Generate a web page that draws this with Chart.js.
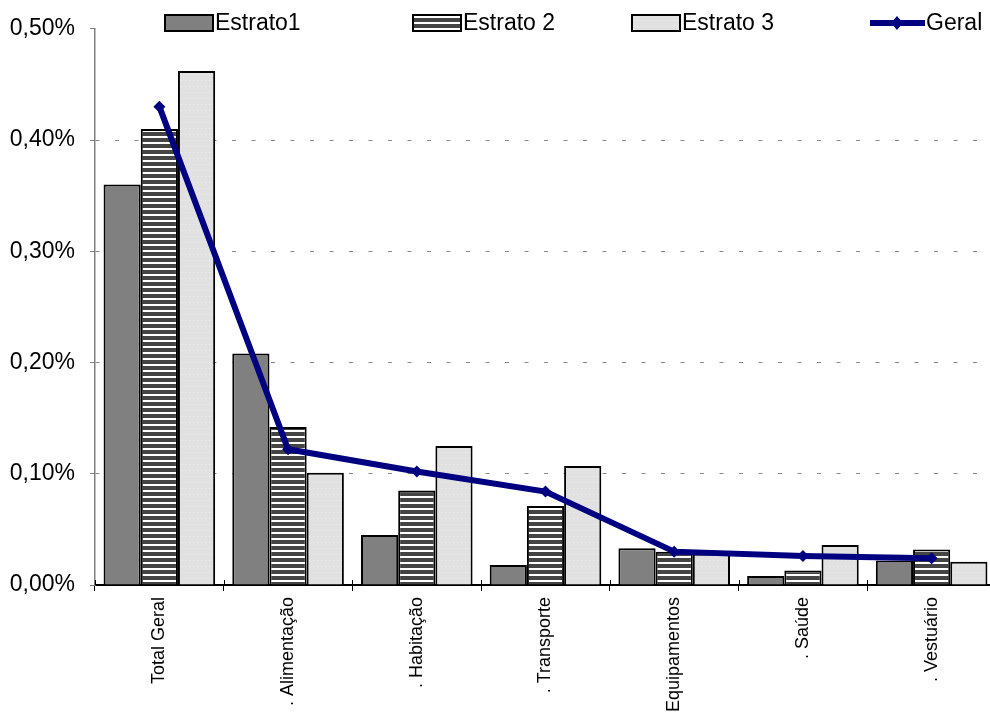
<!DOCTYPE html>
<html>
<head>
<meta charset="utf-8">
<script src="https://cdn.jsdelivr.net/npm/chart.js@4.4.0/dist/chart.umd.min.js"></script>
<style>
  html, body { margin: 0; padding: 0; background: #fff; overflow: hidden; }
  #wrap { width: 990px; height: 717px; overflow: hidden; }
</style>
</head>
<body>
<div id="wrap"><canvas id="chart" width="1002" height="717"></canvas></div>
<script>
const categories = ['Total Geral', '. Alimentação', '. Habitação', '. Transporte', 'Equipamentos', '. Saúde', '. Vestuário'];
const estrato1 = [0.360, 0.208, 0.045, 0.018, 0.033, 0.008, 0.022];
const estrato2 = [0.410, 0.142, 0.085, 0.071, 0.030, 0.013, 0.032];
const estrato3 = [0.462, 0.101, 0.125, 0.107, 0.028, 0.036, 0.021];
const geral = [0.430, 0.122, 0.102, 0.084, 0.030, 0.026, 0.024];
const yTicks = [0, 0.1, 0.2, 0.3, 0.4, 0.5];

const FONT = '"Liberation Sans", Arial, sans-serif';

function stripePattern() {
    const c = document.createElement('canvas');
    c.width = 6; c.height = 6;
    const g = c.getContext('2d');
    g.fillStyle = '#ffffff';
    g.fillRect(0, 0, 6, 6);
    g.fillStyle = '#444444';
    g.fillRect(0, 0, 6, 4);
    return g.createPattern(c, 'repeat');
}

function dotPattern() {
    const c = document.createElement('canvas');
    c.width = 4; c.height = 6;
    const g = c.getContext('2d');
    g.fillStyle = '#e1e1e1';
    g.fillRect(0, 0, 4, 6);
    g.fillStyle = '#eeeeee';
    g.fillRect(1, 2, 1, 1);
    return g.createPattern(c, 'repeat');
}

const stripes = stripePattern();
const dots = dotPattern();

// legend drawn by hand to match the spread-out original
const legendPlugin = {
    id: 'topLegend',
    afterDraw(chart) {
        const ctx = chart.ctx;
        const y = 23;
        const items = [
            { x: 165, text: 'Estrato1', fill: '#808080' },
            { x: 413, text: 'Estrato 2', fill: stripes },
            { x: 632, text: 'Estrato 3', fill: dots },
        ];
        ctx.save();
        ctx.font = '23px ' + FONT;
        ctx.textBaseline = 'middle';
        items.forEach(it => {
            ctx.fillStyle = it.fill;
            ctx.fillRect(it.x, y - 8, 48, 16);
            ctx.lineWidth = 2;
            ctx.strokeStyle = '#000';
            ctx.strokeRect(it.x, y - 8, 48, 16);
            ctx.fillStyle = '#000';
            ctx.fillText(it.text, it.x + 50, y + 1);
        });
        ctx.strokeStyle = '#000080';
        ctx.lineWidth = 6;
        ctx.beginPath();
        ctx.moveTo(870, y);
        ctx.lineTo(925, y);
        ctx.stroke();
        ctx.fillStyle = '#000080';
        ctx.beginPath();
        ctx.moveTo(897, y - 7);
        ctx.lineTo(903, y);
        ctx.lineTo(897, y + 7);
        ctx.lineTo(891, y);
        ctx.closePath();
        ctx.fill();
        ctx.fillStyle = '#000';
        ctx.fillText('Geral', 926, y + 1);
        ctx.restore();
    }
};

// draw the x-axis tick marks across the axis line, as in the original
const crossTicks = {
    id: 'crossTicks',
    afterDatasetsDraw(chart) {
        const x = chart.scales.x;
        const ctx = chart.ctx;
        const bottom = chart.chartArea.bottom;
        ctx.save();
        ctx.strokeStyle = '#000';
        ctx.lineWidth = 1;
        for (let i = 0; i <= categories.length; i++) {
            const px = Math.round(x.getPixelForValue(i - 0.5)) + 0.5;
            ctx.beginPath();
            ctx.moveTo(px, bottom - 5);
            ctx.lineTo(px, bottom);
            ctx.stroke();
        }
        ctx.restore();
    }
};

const barStyle = { borderColor: '#000000', borderWidth: 2, categoryPercentage: 0.867, barPercentage: 1.0, order: 2 };

new Chart(document.getElementById('chart'), {
    data: {
        labels: categories,
        datasets: [
            { type: 'line', label: 'Geral', data: geral, borderColor: '#000080', backgroundColor: '#000080',
              borderWidth: 6, pointStyle: 'rectRot', pointRadius: 6, pointBorderWidth: 0, tension: 0, order: 0 },
            { type: 'bar', label: 'Estrato1', data: estrato1, backgroundColor: '#808080', ...barStyle },
            { type: 'bar', label: 'Estrato 2', data: estrato2, backgroundColor: stripes, ...barStyle },
            { type: 'bar', label: 'Estrato 3', data: estrato3, backgroundColor: dots, ...barStyle },
        ]
    },
    options: {
        responsive: false,
        animation: false,
        layout: { padding: { top: 27, right: 0, bottom: 0, left: 0 } },
        plugins: { legend: { display: false }, tooltip: { enabled: false } },
        scales: {
            x: {
                offset: true,
                grid: { offset: true, drawOnChartArea: false, drawTicks: true, tickLength: 6, color: '#000', tickColor: '#000' },
                border: { color: '#000', width: 2 },
                ticks: { maxRotation: 90, minRotation: 90, padding: 6, color: '#000', font: { family: FONT, size: 18 } },
                afterFit(scale) { scale.height = 132; scale.paddingRight = 0; scale.paddingLeft = 0; }
            },
            y: {
                min: 0,
                max: 0.5,
                afterBuildTicks(scale) { scale.ticks = yTicks.map(v => ({ value: v })); },
                grid: {
                    color: c => (c.tick && c.tick.value > 0 && c.tick.value < 0.5) ? '#888888' : 'rgba(0,0,0,0)',
                    tickColor: '#808080',
                    tickLength: 5,
                    lineWidth: 1
                },
                border: { color: '#808080', width: 1.5, dash: [4, 15.5] },
                ticks: {
                    padding: 15,
                    color: '#000',
                    font: { family: FONT, size: 23 },
                    callback: v => v.toFixed(2).replace('.', ',') + '%'
                },
                afterFit(scale) { scale.width = 95; }
            }
        }
    },
    plugins: [legendPlugin, crossTicks]
});
</script>
</body>
</html>
